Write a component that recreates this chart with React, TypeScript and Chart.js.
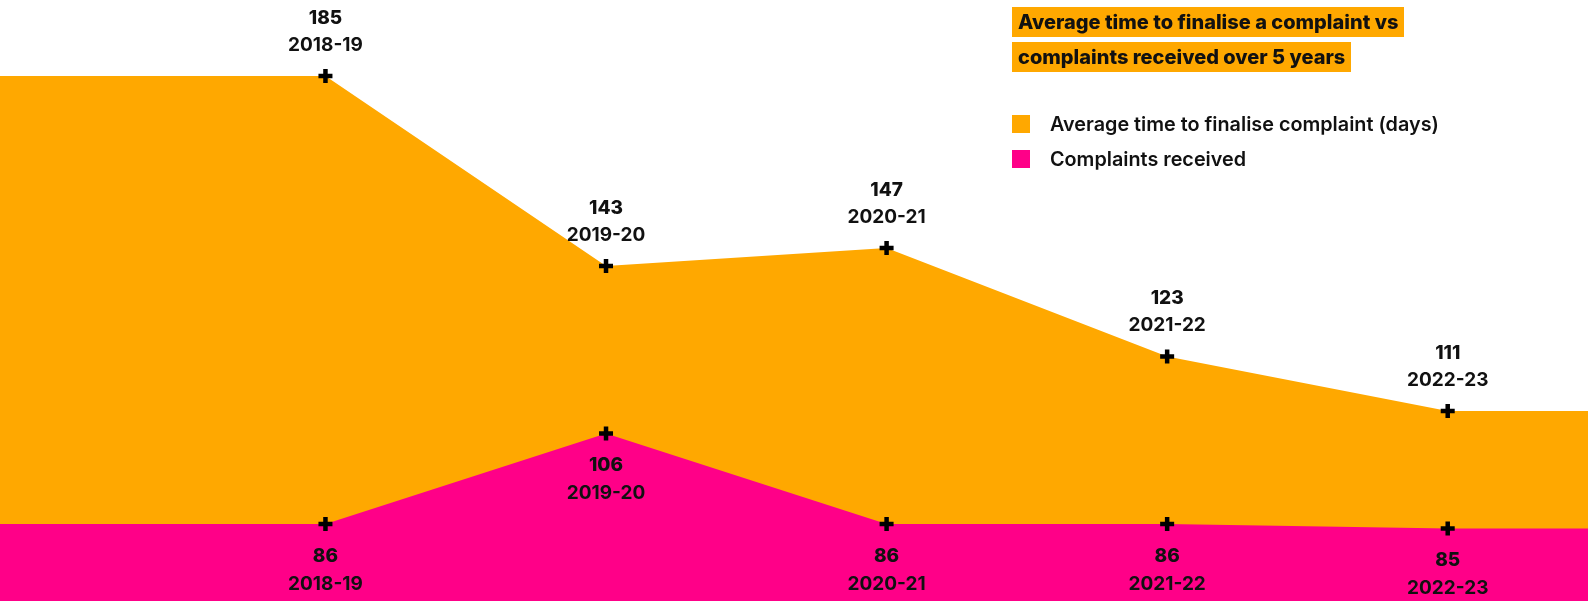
import { useEffect, useRef } from 'react';
import { Chart, registerables } from 'chart.js';

Chart.register(...registerables);

// Financial years shown on the chart
const years = ['2018-19', '2019-20', '2020-21', '2021-22', '2022-23'];
// Average time to finalise a complaint (days)
const avgDays = [185, 143, 147, 123, 111];
// Complaints received
const complaints = [86, 106, 86, 86, 85];

const titleLines = ['Average time to finalise a complaint vs', 'complaints received over 5 years'];
const legendItems = ['Average time to finalise complaint (days)', 'Complaints received'];

const ORANGE = '#FFA800';
const PINK = '#FF0088';
const FONT = 'Inter, "Noto Sans", sans-serif';

// The areas run flat out to both canvas edges
const X_MIN = -1.16;
const X_MAX = 4.5;
const Y_MIN = 69;
const Y_MAX = 201.8;

function series(values: number[]) {
  const pts = values.map((v, i) => ({ x: i, y: v }));
  return [{ x: X_MIN, y: values[0] }, ...pts, { x: X_MAX, y: values[values.length - 1] }];
}

const isEdge = (ctx: any) => ctx.dataIndex === 0 || ctx.dataIndex === years.length + 1;

// Value + year label next to each point: above for days, below for complaints
const pointLabels = {
  id: 'pointLabels',
  afterDatasetsDraw(chart: any) {
    const { ctx } = chart;
    chart.data.datasets.forEach((ds: any, di: number) => {
      const meta = chart.getDatasetMeta(di);
      const values: number[] = ds.sourceValues;
      const above = ds.labelAbove;
      ctx.save();
      ctx.fillStyle = '#111';
      ctx.textAlign = 'center';
      ctx.textBaseline = 'middle';
      values.forEach((v, i) => {
        const p = meta.data[i + 1];
        const x = p.x;
        const y = p.y;
        const vy = above ? y - 58 : y + 32;
        const yy = above ? y - 31 : y + 60;
        ctx.font = `800 19px ${FONT}`;
        ctx.fillText(String(v), x, vy);
        ctx.font = `650 19px ${FONT}`;
        ctx.fillText(years[i], x, yy);
      });
      ctx.restore();
    });
  },
};

export default function App() {
  const canvasRef = useRef<HTMLCanvasElement | null>(null);

  useEffect(() => {
    const canvas = canvasRef.current;
    if (!canvas) return;
    const common = {
      borderColor: 'transparent',
      borderWidth: 0,
      tension: 0,
      pointStyle: 'cross',
      pointRadius: (ctx: any) => (isEdge(ctx) ? 0 : 7),
      pointBorderWidth: 4.5,
      pointBorderColor: '#000',
      pointBackgroundColor: '#000',
      fill: 'start',
    };
    const chart = new Chart(canvas, {
      type: 'line',
      data: {
        datasets: [
          {
            ...common,
            label: legendItems[0],
            data: series(avgDays),
            backgroundColor: ORANGE,
            order: 1,
            sourceValues: avgDays,
            labelAbove: true,
          } as any,
          {
            ...common,
            label: legendItems[1],
            data: series(complaints),
            backgroundColor: PINK,
            order: 0,
            sourceValues: complaints,
            labelAbove: false,
          } as any,
        ],
      },
      options: {
        animation: false,
        responsive: false,
        maintainAspectRatio: false,
        layout: { padding: 0 },
        scales: {
          x: { type: 'linear', min: X_MIN, max: X_MAX, display: false },
          y: { min: Y_MIN, max: Y_MAX, display: false },
        },
        plugins: {
          legend: { display: false },
          tooltip: { enabled: false },
        },
      },
      plugins: [pointLabels],
    });
    return () => chart.destroy();
  }, []);

  return (
    <div style={{ position: 'absolute', left: 0, top: 0, width: 1588, height: 601, background: '#fff', overflow: 'hidden', fontFamily: FONT }}>
      <canvas ref={canvasRef} width={1588} height={601} style={{ display: 'block', width: 1588, height: 601 }} />
      <div style={{ position: 'absolute', left: 1012, top: 7 }}>
        {titleLines.map((t, i) => (
          <div
            key={t}
            style={{
              display: 'table',
              background: ORANGE,
              color: '#111',
              fontWeight: 800,
              fontSize: 20,
              lineHeight: '30px',
              height: 30,
              padding: '0 6px',
              marginBottom: i === 0 ? 5 : 0,
              whiteSpace: 'nowrap',
            }}
          >
            {t}
          </div>
        ))}
      </div>
      <div style={{ position: 'absolute', left: 1012, top: 115 }}>
        {legendItems.map((t, i) => (
          <div key={t} style={{ display: 'flex', alignItems: 'center', height: 18, marginBottom: 17 }}>
            <div style={{ width: 18, height: 18, background: i === 0 ? ORANGE : PINK }} />
            <div style={{ marginLeft: 20, fontSize: 19.8, fontWeight: 600, color: '#111', whiteSpace: 'nowrap' }}>{t}</div>
          </div>
        ))}
      </div>
    </div>
  );
}
